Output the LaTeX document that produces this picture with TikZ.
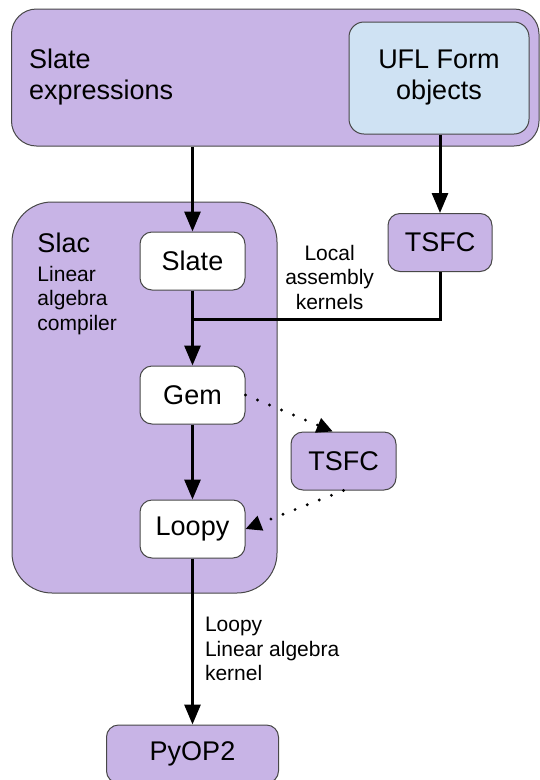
\documentclass[tikz,border=0pt]{standalone}
\usepackage{fontspec}
\setmainfont{Liberation Sans}
\usepackage{tikz}
\usetikzlibrary{positioning,arrows.meta}
\definecolor{slacpurple}{RGB}{200,180,230}
\definecolor{uflblue}{RGB}{207,226,243}
\definecolor{boxgray}{RGB}{72,72,72}

\begin{document}
\begin{tikzpicture}[x=1pt,y=-1pt,->,>={Triangle[length=20pt,width=16pt]},line width=3pt,node distance=134pt,
        main node/.style={rectangle,draw=boxgray,line width=1pt,rounded corners=12pt,minimum width=105pt,minimum height=58pt,inner sep=0pt,font=\fontsize{27}{31}\selectfont},
        small text/.style={inner sep=0pt,font=\fontsize{21}{24.5}\selectfont},
        dotted link/.style={line width=3.2pt,line cap=round,dash pattern=on 0pt off 13pt,>={Triangle[length=16pt,width=15pt]}}]

    \useasboundingbox (0,0) rectangle (540,780);

    % outer boxes
    \node[main node,fill=slacpurple,minimum width=527.5pt,minimum height=137pt,rounded corners=25pt,text width=492.5pt,align=left] (expr) at (275.25,77.5) {Slate\\expressions};
    \node[main node,fill=uflblue,minimum width=180pt,minimum height=112pt,rounded corners=15pt,align=center] (ufl) at (439,78) {UFL Form\\objects};
    \node[main node,fill=slacpurple,minimum width=265pt,minimum height=391pt,rounded corners=40pt] (slac) at (144.5,397.5) {};
    \node[anchor=base west,inner sep=0pt,font=\fontsize{27}{31}\selectfont] (slactitle) at (36,252) {Slac};
    \node[small text,anchor=north west,align=left] (slacsub) at (36,264.5) {Linear\\algebra\\compiler};

    % compiler passes
    \node[main node,fill=white] (slate) at (192.5,261) {Slate};
    \node[main node,fill=white] (gem) [below of=slate] {Gem};
    \node[main node,fill=white] (loopy) [below of=gem] {Loopy};
    \node[main node,fill=slacpurple,minimum width=104pt] (tsfc1) at (440,242.5) {TSFC};
    \node[main node,fill=slacpurple] (tsfc2) at (343.5,461) {TSFC};
    \node[main node,fill=slacpurple,minimum width=172pt] (pyop2) at (192.5,754) {PyOP2};

    \coordinate (join) at (192.5,319);

    \path
    (expr.south -| slate) edge (slate.north)
    (ufl.south -| tsfc1) edge (tsfc1.north)
    (slate) edge (gem)
    (gem) edge (loopy)
    (loopy) edge node[small text,right=11pt,pos=0.545,align=left] {Loopy\\Linear algebra\\kernel} (pyop2);

    \draw[-] (join) -| node[small text,above=8pt,pos=0.277,align=center] {Local\\assembly\\kernels} (tsfc1.south);

    \path[dotted link]
    (gem.east) edge (tsfc2.110)
    (tsfc2.south) edge (loopy.east);

\end{tikzpicture}
\end{document}
